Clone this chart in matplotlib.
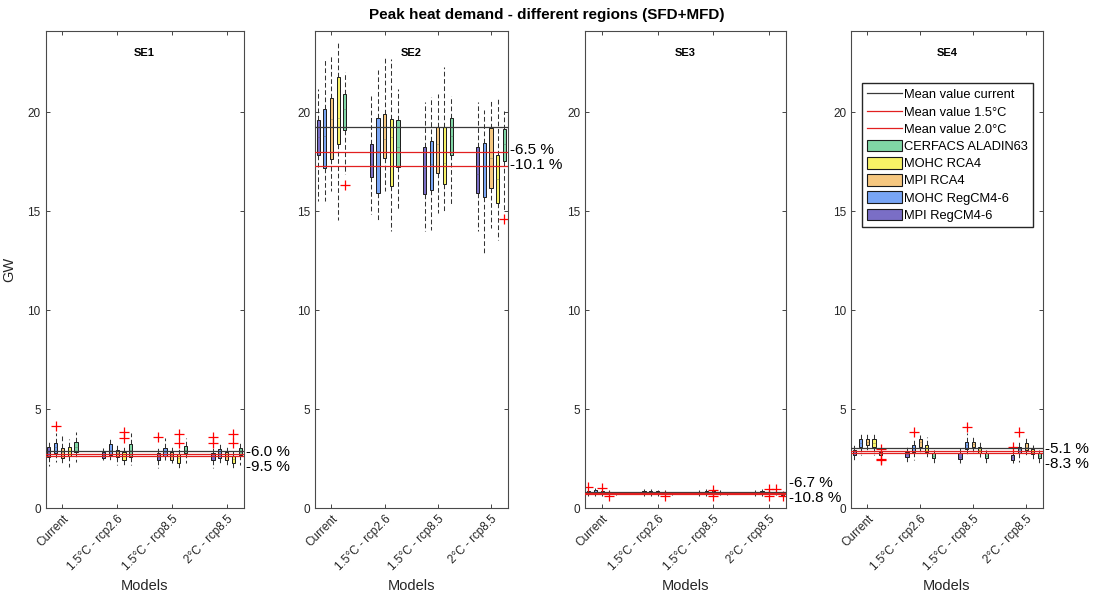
import matplotlib.pyplot as plt
from matplotlib.patches import Patch
from matplotlib.lines import Line2D
from matplotlib import transforms

plt.rcParams['font.family'] = ['Liberation Sans', 'DejaVu Sans']

# scenario groups on the x axis, and the five models inside each group
SCENARIOS = ['Current', '1.5°C - rcp2.6', '1.5°C - rcp8.5', '2°C - rcp8.5']
MODELS = ['MPI RegCM4-6', 'MOHC RegCM4-6', 'MPI RCA4', 'MOHC RCA4', 'CERFACS ALADIN63']
MODEL_COLORS = ['#7a6ec6', '#78a5f5', '#f6c77f', '#f7f266', '#80d6a5']
REGIONS = ['SE1', 'SE2', 'SE3', 'SE4']

# box statistics per region: [group][model] = [whisker low, q1, median, q3, whisker high]
SE1_BOX = [
    [[2.14, 2.61, 2.86, 3.11, 3.45], [2.36, 2.78, 3.11, 3.32, 3.79], [2.27, 2.56, 2.86, 3.06, 3.70],
     [2.07, 2.64, 2.89, 3.11, 3.48], [2.36, 2.86, 3.11, 3.35, 3.87]],
    [[2.44, 2.52, 2.69, 2.83, 3.06], [2.36, 2.69, 2.95, 3.23, 3.60], [2.19, 2.57, 2.78, 2.95, 3.32],
     [2.19, 2.44, 2.64, 2.86, 3.11], [2.19, 2.57, 2.95, 3.23, 3.79]],
    [[2.05, 2.44, 2.61, 2.78, 3.03], [2.44, 2.64, 2.86, 3.06, 3.53], [2.27, 2.44, 2.69, 2.86, 3.20],
     [1.97, 2.31, 2.56, 2.73, 3.03], [2.27, 2.78, 2.95, 3.15, 3.53]],
    [[2.02, 2.44, 2.64, 2.78, 3.03], [2.27, 2.52, 2.78, 2.98, 3.32], [2.19, 2.44, 2.64, 2.83, 3.15],
     [1.93, 2.27, 2.47, 2.64, 2.95], [2.19, 2.69, 2.86, 3.03, 3.42]],
]
SE2_BOX = [
    [[15.50, 17.85, 18.76, 19.61, 21.19], [15.50, 17.20, 18.80, 20.17, 22.63], [16.00, 17.63, 19.66, 20.73, 22.88],
     [14.58, 18.40, 19.70, 21.80, 23.50], [16.86, 19.10, 20.17, 20.90, 22.03]],
    [[14.86, 16.75, 17.37, 18.39, 20.80], [14.58, 15.93, 18.05, 19.71, 22.12], [16.00, 17.71, 18.64, 19.92, 22.80],
     [13.98, 16.27, 18.73, 19.66, 22.70], [15.08, 17.24, 18.25, 19.61, 21.19]],
    [[13.98, 15.88, 17.20, 18.22, 20.50], [14.07, 16.07, 17.37, 18.56, 20.76], [14.92, 16.95, 18.39, 19.24, 20.93],
     [14.92, 16.36, 17.46, 19.24, 22.29], [15.34, 17.85, 18.81, 19.71, 20.80]],
    [[13.98, 15.93, 16.90, 18.22, 20.50], [12.88, 15.71, 17.29, 18.47, 20.12], [14.15, 16.19, 17.71, 19.20, 20.68],
     [13.56, 15.42, 16.61, 17.85, 20.68], [15.08, 17.54, 18.39, 19.15, 20.08]],
]
SE3_BOX = [
    [[0.60, 0.72, 0.80, 0.88, 0.98], [0.62, 0.74, 0.82, 0.90, 1.00], [0.62, 0.72, 0.80, 0.86, 0.96],
     [0.64, 0.72, 0.78, 0.84, 0.92], [0.68, 0.70, 0.72, 0.74, 0.76]],
    [[0.62, 0.72, 0.80, 0.88, 0.98], [0.62, 0.72, 0.80, 0.88, 0.98], [0.64, 0.72, 0.79, 0.86, 0.94],
     [0.66, 0.72, 0.77, 0.82, 0.90], [0.68, 0.70, 0.72, 0.74, 0.76]],
    [[0.60, 0.70, 0.77, 0.84, 0.94], [0.62, 0.72, 0.80, 0.88, 0.98], [0.64, 0.72, 0.79, 0.86, 0.94],
     [0.66, 0.72, 0.77, 0.82, 0.90], [0.68, 0.70, 0.72, 0.74, 0.76]],
    [[0.60, 0.70, 0.77, 0.84, 0.94], [0.62, 0.72, 0.80, 0.88, 0.98], [0.62, 0.70, 0.77, 0.84, 0.92],
     [0.66, 0.72, 0.77, 0.82, 0.90], [0.64, 0.68, 0.71, 0.74, 0.78]],
]
SE4_BOX = [
    [[2.36, 2.69, 2.81, 2.95, 3.20], [2.69, 3.08, 3.32, 3.48, 3.79], [2.86, 3.20, 3.37, 3.50, 3.79],
     [2.69, 3.08, 3.32, 3.48, 3.87], [2.52, 2.69, 2.78, 2.86, 3.03]],
    [[2.36, 2.61, 2.74, 2.86, 3.11], [2.44, 2.86, 3.03, 3.20, 3.53], [2.86, 3.11, 3.37, 3.48, 3.70],
     [2.57, 2.86, 3.03, 3.20, 3.62], [2.27, 2.52, 2.64, 2.78, 2.95]],
    [[2.27, 2.47, 2.61, 2.78, 3.06], [2.69, 2.98, 3.20, 3.37, 3.79], [2.78, 3.11, 3.23, 3.37, 3.58],
     [2.61, 2.78, 2.95, 3.11, 3.37], [2.27, 2.52, 2.64, 2.78, 2.95]],
    [[2.27, 2.44, 2.57, 2.69, 2.95], [2.36, 2.78, 2.98, 3.11, 3.45], [2.69, 2.95, 3.11, 3.28, 3.58],
     [2.44, 2.74, 2.86, 2.98, 3.20], [2.27, 2.52, 2.64, 2.78, 2.95]],
]

# outliers: (group, model, value)
SE1_OUT = [(0, 1, 4.16), (1, 3, 3.84), (1, 3, 3.53), (2, 0, 3.62), (2, 3, 3.74), (2, 3, 3.32),
           (3, 0, 3.62), (3, 0, 3.32), (3, 3, 3.74), (3, 3, 3.28)]
SE2_OUT = [(0, 4, 16.3), (3, 4, 14.6)]
SE3_OUT = [(0, 0, 1.08), (0, 2, 1.02), (0, 3, 0.64), (1, 3, 0.60), (2, 2, 0.94), (2, 2, 0.62),
           (3, 2, 0.95), (3, 2, 0.62), (3, 3, 0.96), (3, 4, 0.62)]
SE4_OUT = [(0, 4, 2.97), (0, 4, 2.47), (0, 4, 2.42), (1, 1, 3.84), (2, 1, 4.12), (3, 0, 3.12), (3, 1, 3.84)]

# mean of current peak demand and change of the future means
MEAN_CURRENT = [2.91, 19.25, 0.82, 3.05]
PCT_15 = [-6.0, -6.5, -6.7, -5.1]
PCT_20 = [-9.5, -10.1, -10.8, -8.3]

boxes = [SE1_BOX, SE2_BOX, SE3_BOX, SE4_BOX]
outs = [SE1_OUT, SE2_OUT, SE3_OUT, SE4_OUT]

offsets = [-0.25, -0.125, 0.0, 0.125, 0.25]
W, H = 1094, 596
# panel edges in pixels
panel_left = [45.5, 315, 585, 851]
panel_right = [243.5, 507.5, 786, 1042.5]

fig = plt.figure(figsize=(W / 100, H / 100), dpi=100)

for k, region in enumerate(REGIONS):
    ax = fig.add_axes([panel_left[k] / W, 87.7 / H,
                       (panel_right[k] - panel_left[k]) / W, 477.3 / H])

    stats, positions, colors = [], [], []
    for g in range(len(SCENARIOS)):
        for m in range(len(MODELS)):
            lo, q1, med, q3, hi = boxes[k][g][m]
            fl = [v for (gg, mm, v) in outs[k] if gg == g and mm == m]
            stats.append(dict(whislo=lo, q1=q1, med=med, q3=q3, whishi=hi, fliers=fl))
            positions.append(g + 1 + offsets[m])
            colors.append(MODEL_COLORS[m])

    bp = ax.bxp(stats, positions=positions, widths=0.06, patch_artist=True, showcaps=False,
                boxprops=dict(linewidth=0.7, edgecolor='#1a1a1a'),
                whiskerprops=dict(linestyle=(0, (4.5, 2.5)), linewidth=0.75, color='#333333'),
                medianprops=dict(color='#555555', linewidth=0.4, alpha=0.6),
                flierprops=dict(marker='+', markeredgecolor='red', markersize=7,
                                markeredgewidth=0.9, linestyle='none'))
    for patch, c in zip(bp['boxes'], colors):
        patch.set_facecolor(c)

    # mean lines
    y0 = MEAN_CURRENT[k]
    y15 = y0 * (1 + PCT_15[k] / 100)
    y20 = y0 * (1 + PCT_20[k] / 100)
    ax.axhline(y0, color='#3a3a3a', lw=0.9, zorder=5)
    ax.axhline(y15, color='#e22020', lw=0.9, zorder=5)
    ax.axhline(y20, color='#e22020', lw=0.9, zorder=5)

    # percentage labels just right of the axes, kept above the x axis
    t1 = y15 + 0.1
    t2 = t1 - 0.75
    if t2 < 0.52:
        t1 += 0.52 - t2
        t2 = 0.52
    trans = transforms.blended_transform_factory(ax.transAxes, ax.transData)
    ax.text(1.015, t1, f'{PCT_15[k]:.1f} %', transform=trans, fontsize=11, va='center', ha='left')
    ax.text(1.015, t2, f'{PCT_20[k]:.1f} %', transform=trans, fontsize=11, va='center', ha='left')

    ax.set_xlim(0.69, 4.31)
    ax.set_ylim(0, 24.1)
    ax.set_yticks([0, 5, 10, 15, 20])
    ax.set_xticks(range(1, len(SCENARIOS) + 1))
    ax.set_xticklabels(SCENARIOS, rotation=45, ha='right', rotation_mode='anchor')
    ax.tick_params(direction='in', top=True, right=True, length=3, width=0.6,
                   labelsize=8.5, labelcolor='#262626', color='#262626')
    for s in ax.spines.values():
        s.set_color('#4a4a4a')
        s.set_linewidth(0.8)
    ax.set_xlabel('Models', fontsize=10.5, color='#262626', labelpad=4)
    if k == 0:
        ax.set_ylabel('GW', fontsize=10.5, color='#262626')
        ax.yaxis.set_label_coords(-0.15, 0.5)
    ax.text(0.5, 0.954, region, transform=ax.transAxes, ha='center', va='center',
            fontsize=8, fontweight='bold')

    if k == 3:
        handles = [Line2D([], [], color='#3a3a3a', lw=0.9, label='Mean value current'),
                   Line2D([], [], color='#e22020', lw=0.9, label='Mean value 1.5°C'),
                   Line2D([], [], color='#e22020', lw=0.9, label='Mean value 2.0°C')]
        for m in reversed(range(len(MODELS))):
            handles.append(Patch(facecolor=MODEL_COLORS[m], edgecolor='#1a1a1a', lw=0.8, label=MODELS[m]))
        ax.legend(handles=handles, loc='upper left', bbox_to_anchor=(0.055, 0.891), fontsize=9.3,
                  frameon=True, fancybox=False, edgecolor='#262626', framealpha=1,
                  borderaxespad=0, handlelength=2.7, handleheight=1.0, labelspacing=0.31,
                  handletextpad=0.2, borderpad=0.4)

fig.text(0.5, 1 - 15 / H, 'Peak heat demand - different regions (SFD+MFD)', ha='center', va='center',
         fontsize=11, fontweight='bold')

fig.savefig('out.png', dpi=100)
